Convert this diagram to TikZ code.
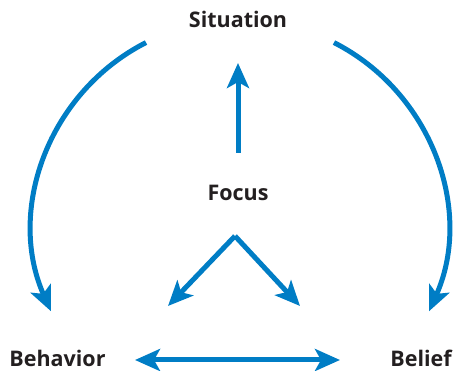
\documentclass[tikz,border=0pt]{standalone}
\usepackage{fontspec}
\setmainfont{Open Sans}
\usetikzlibrary{arrows.meta}
\definecolor{flowblue}{RGB}{0,125,197}
\definecolor{labelgray}{RGB}{35,31,32}
\begin{document}
\begin{tikzpicture}[x=1pt, y=1pt,
  lbl/.style={font=\bfseries\fontsize{21.5}{25}\selectfont, text=labelgray, inner sep=0pt, anchor=base},
  flow/.style={line width=5pt, draw=flowblue, -{Stealth[length=25pt, width=22pt, inset=6pt]}},
  both/.style={flow, {Stealth[length=25pt, width=22pt, inset=6pt]}-{Stealth[length=25pt, width=22pt, inset=6pt]}}
]
\useasboundingbox (0,0) rectangle (453,371);

% Labels
\node[lbl] (sit) at (238,343) {Situation};
\node[lbl] (focus) at (238,170) {Focus};
\node[lbl] (behav) at (57.5,4) {Behavior};
\node[lbl] (belief) at (421,4) {Belief};

% Arrow ends
\coordinate (hub) at (240,144);
\coordinate (upfrom) at (238,218);
\coordinate (upto) at (238,308);
\coordinate (apex) at (235,135);
\coordinate (vleft) at (168,65);
\coordinate (vright) at (300,65);
\coordinate (hleft) at (135,11);
\coordinate (hright) at (340,11);
\coordinate (arcL) at ([shift={(117:207)}]hub);
\coordinate (arcR) at ([shift={(63:207)}]hub);

% Arrows
\draw[flow] (upfrom) -- (upto);
\draw[flow] (apex) -- (vleft);
\draw[flow] (apex) -- (vright);
\draw[both] (hleft) -- (hright);
\draw[flow] (arcL) arc[start angle=117, end angle=204, radius=207];
\draw[flow] (arcR) arc[start angle=63, end angle=-24, radius=207];
\end{tikzpicture}
\end{document}
